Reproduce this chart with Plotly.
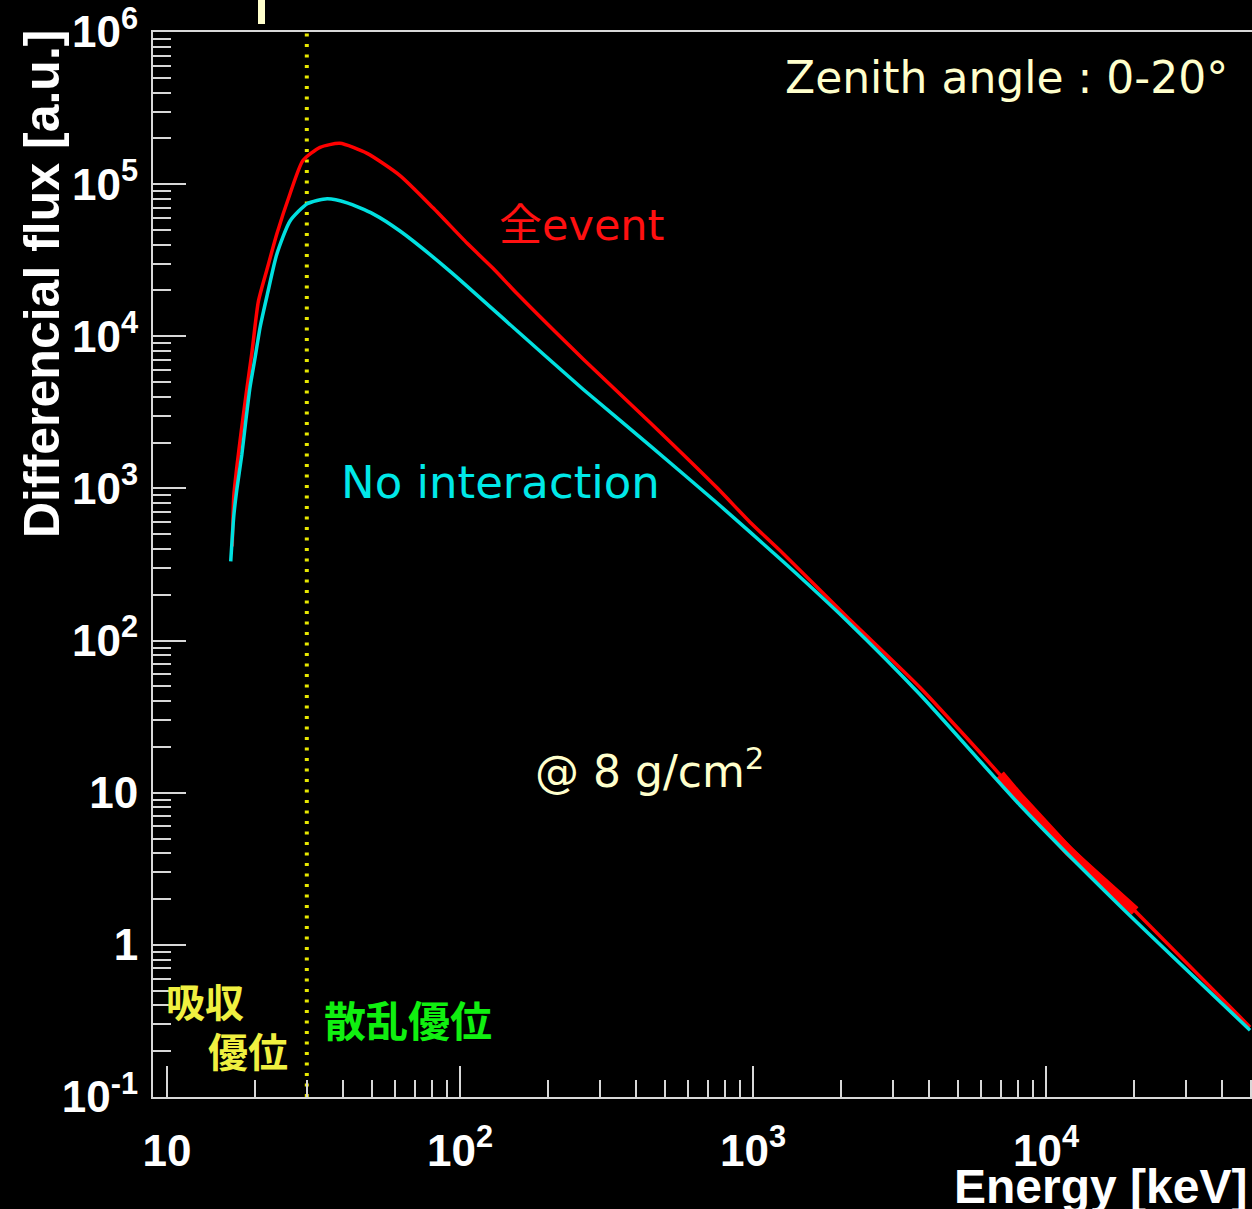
import plotly.graph_objects as go

# Differential flux spectra (keV vs arbitrary units)
energy_all = [16.7, 16.9, 17.3, 17.9, 18.6, 19.5, 20.5, 22.0, 23.7, 26.3, 29.1, 33.3,
              38.9, 48.2, 62.4, 80.9, 105.6, 129.6, 156.5, 263, 445, 754, 977, 1266, 2094,
              3715, 6970, 8154, 17890, 20140, 49700]
flux_all = [416, 891, 1368, 2333, 4100, 7890, 16900, 28000, 47000, 86500, 143000, 174500,
            185500, 159200, 113800, 69900, 41000, 28000, 19100, 7100, 2716, 1010, 600, 374,
            143, 49.2, 13.1, 9.2, 2.10, 1.67, 0.288]

# noisy high-energy stretch of the all-event spectrum
energy_all_noisy = [6970, 8154, 12000, 17890, 20140]
flux_all_noisy = [13.1, 9.2, 4.1, 2.10, 1.67]

energy_noint = [16.5, 16.9, 17.3, 18.0, 18.6, 19.2, 20.0, 20.8, 22.0, 23.7, 26.3, 30.1,
                35.2, 41.2, 50.5, 62.4, 92.5, 156.5, 263, 445, 754, 1266, 2094, 3715,
                8154, 17890, 49700]
flux_noint = [331, 658, 977, 1667, 2842, 4630, 7310, 11560, 18840, 34640, 57300, 74300,
              80200, 75400, 63800, 49200, 26740, 10870, 4490, 1911, 802, 331, 134.6, 44.2,
              8.27, 1.80, 0.275]

boundary_energy = 30  # absorption / scattering boundary (keV)

y_tickvals = [0.1, 1, 10, 100, 1e3, 1e4, 1e5, 1e6]
y_ticktext = ["10<sup>-1</sup>", "1", "10", "10<sup>2</sup>", "10<sup>3</sup>",
              "10<sup>4</sup>", "10<sup>5</sup>", "10<sup>6</sup>"]
x_tickvals = [10, 100, 1e3, 1e4]
x_ticktext = ["10", "10<sup>2</sup>", "10<sup>3</sup>", "10<sup>4</sup>"]

minor_x = [m * 10 ** k for k in range(0, 5) for m in range(2, 10)]
minor_y = [m * 10.0 ** k for k in range(-1, 6) for m in range(2, 10)]

W, H = 1252, 1209
L, R, T, B = 153, 1252, 32, 1097


def px(x):
    return (x - L) / (R - L)


def py(y):
    return (B - y) / (B - T)


AXIS_COL = "#D8D8D8"
CREAM = "#FFFFCC"
TXT_FONT = "DejaVu Sans, Noto Sans CJK JP"
CJK_FONT = "Noto Sans CJK JP"
LABEL_FONT = "Liberation Sans, Arial, sans-serif"

fig = go.Figure()

fig.add_trace(go.Scatter(x=[boundary_energy, boundary_energy], y=[0.1, 1e6], mode="lines",
                         line=dict(color="#E8E800", width=4, dash="3px,7.5px"),
                         showlegend=False, hoverinfo="skip"))
fig.add_trace(go.Scatter(x=energy_all, y=flux_all, mode="lines",
                         line=dict(color="#FF0000", width=3.5, shape="spline", smoothing=0.6),
                         showlegend=False))
fig.add_trace(go.Scatter(x=energy_all_noisy, y=flux_all_noisy, mode="lines",
                         line=dict(color="#FF0000", width=10), showlegend=False))
fig.add_trace(go.Scatter(x=energy_noint, y=flux_noint, mode="lines",
                         line=dict(color="#00E0E0", width=3.5, shape="spline", smoothing=0.6),
                         showlegend=False))

axis_common = dict(type="log", showgrid=False, zeroline=False, showline=True,
                   linecolor=AXIS_COL, linewidth=2, ticks="inside", tickcolor=AXIS_COL,
                   tickwidth=2, tickmode="array",
                   tickfont=dict(family=LABEL_FONT, size=44, color="white", weight="bold"))

fig.update_xaxes(**axis_common, range=[0.9522, 4.703], tickvals=x_tickvals,
                 ticktext=x_ticktext, ticklen=31, mirror=True, ticklabelstandoff=14,
                 minor=dict(tickmode="array", tickvals=minor_x, ticks="inside",
                            ticklen=17, tickcolor=AXIS_COL, tickwidth=2))
fig.update_yaxes(**axis_common, range=[-1, 6], tickvals=y_tickvals,
                 ticktext=y_ticktext, ticklen=33, ticklabelstandoff=4,
                 minor=dict(tickmode="array", tickvals=minor_y, ticks="inside",
                            ticklen=18, tickcolor=AXIS_COL, tickwidth=2))

annotations = [
    dict(text="Zenith angle : 0-20°", x=px(1006), y=py(78), color=CREAM, size=44, family=TXT_FONT),
    dict(text="全event", x=px(581), y=py(225), color="#FF1010", size=43, family=TXT_FONT),
    dict(text="No interaction", x=px(500), y=py(482), color="#00E8E8", size=45, family=TXT_FONT),
    dict(text="@ 8 g/cm<sup>2</sup>", x=px(649), y=py(768), color=CREAM, size=44, family=TXT_FONT),
    dict(text="吸収", x=px(205), y=py(1000), color="#F0F040", size=39, family=CJK_FONT),
    dict(text="優位", x=px(248), y=py(1050), color="#F0F040", size=40, family=CJK_FONT),
    dict(text="散乱優位", x=px(408), y=py(1018), color="#10F010", size=42, family=CJK_FONT),
]
for a in annotations:
    fig.add_annotation(text=a["text"], x=a["x"], y=a["y"], xref="paper", yref="paper",
                       showarrow=False, xanchor="center", yanchor="middle",
                       font=dict(family=a["family"], size=a["size"], color=a["color"],
                                 weight="bold" if a["family"] == CJK_FONT else "normal"))

fig.add_annotation(text="Differencial flux [a.u.]", textangle=-90, x=px(42), y=py(28),
                   xref="paper", yref="paper", showarrow=False, xanchor="center",
                   yanchor="top",
                   font=dict(family=LABEL_FONT, size=50, color="white", weight="bold"))
fig.add_annotation(text="Energy [keV]", x=px(1249), y=py(1187), xref="paper", yref="paper",
                   showarrow=False, xanchor="right", yanchor="middle",
                   font=dict(family=LABEL_FONT, size=48, color="white", weight="bold"))

# fragment of a heading cut off at the top edge
fig.add_shape(type="rect", xref="paper", yref="paper", x0=px(258), x1=px(265),
              y0=py(24), y1=py(-2), fillcolor=CREAM, line=dict(width=0))

fig.update_layout(width=W, height=H, paper_bgcolor="black", plot_bgcolor="black",
                  margin=dict(l=L, r=W - R, t=T, b=H - B), showlegend=False)

fig.write_html("out.html")
